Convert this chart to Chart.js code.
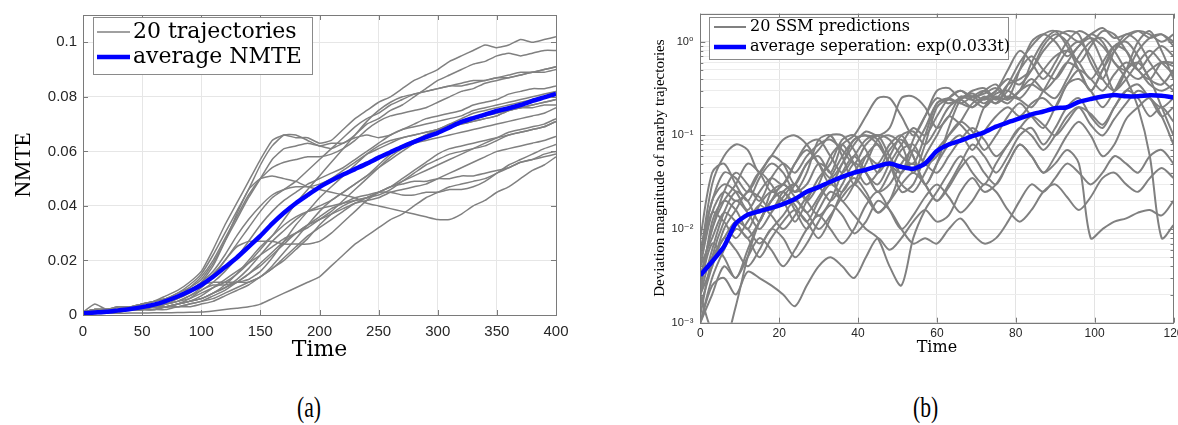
<!DOCTYPE html>
<html>
<head>
<meta charset="utf-8">
<script src="https://cdn.jsdelivr.net/npm/chart.js@4.4.1/dist/chart.umd.min.js"></script>
<style>
  html, body { margin: 0; padding: 0; background: #fff; width: 1178px; height: 425px; overflow: hidden; }
  .panel { position: absolute; top: 0; }
  #leftWrap { left: 0; width: 580px; height: 370px; }
  #rightWrap { left: 640px; width: 560px; height: 370px; }
  .caption { position: absolute; top: 392px; font-family: "Liberation Serif", serif; font-size: 24px; color: #000;
             transform: scale(0.9, 1.2); transform-origin: left top; }
</style>
</head>
<body>
<div class="panel" id="leftWrap"><canvas id="nmteChart" width="580" height="370"></canvas></div>
<div class="panel" id="rightWrap"><canvas id="sepChart" width="560" height="370"></canvas></div>
<div class="caption" style="left:297px">(a)</div>
<div class="caption" style="left:913px">(b)</div>
<script>
// ---- (a) NMTE of 20 trajectories ----
const nmteTime = [0,10,20,30,40,50,60,70,80,90, 100,110,120,130,140,150,160,170,180,190,
  200,210,220,230,240,250,260,270,280,290, 300,310,320,330,340,350,360,370,380,390, 400];

const nmteAverage = [0.0006,0.0009,0.0012,0.0017,0.0022,0.0029,0.0038,0.0051,0.0068,0.0087,
  0.0110,0.0140,0.0175,0.0210,0.0250,0.0290,0.0335,0.0375,0.0410,0.0440,
  0.0469,0.0493,0.0515,0.0535,0.0555,0.0577,0.0597,0.0617,0.0635,0.0652,
  0.0668,0.0688,0.0708,0.0722,0.0735,0.0748,0.0758,0.0770,0.0785,0.0798, 0.0811];

const nmteRun01 = [0.001,0.002,0.002,0.003,0.003,0.004,0.005,0.007,0.009,0.012, 0.016,0.024,0.033,0.041,0.049,0.057,0.064,0.066,0.065,0.065,
  0.063,0.064,0.068,0.072,0.075,0.078,0.080,0.083,0.086,0.088, 0.090,0.093,0.095,0.097,0.099,0.098,0.099,0.101,0.100,0.101, 0.102];
const nmteRun02 = [0.001,0.004,0.002,0.003,0.003,0.004,0.005,0.006,0.008,0.011, 0.015,0.022,0.030,0.038,0.046,0.055,0.062,0.066,0.066,0.064,
  0.062,0.063,0.063,0.066,0.070,0.072,0.075,0.077,0.080,0.083, 0.086,0.088,0.090,0.092,0.093,0.095,0.096,0.095,0.096,0.097, 0.097];
const nmteRun03 = [0.001,0.002,0.002,0.003,0.003,0.004,0.005,0.006,0.008,0.010, 0.013,0.019,0.027,0.035,0.043,0.050,0.057,0.061,0.062,0.063,
  0.062,0.061,0.063,0.065,0.066,0.065,0.066,0.068,0.070,0.072, 0.073,0.074,0.075,0.077,0.078,0.079,0.081,0.082,0.083,0.083, 0.084];
const nmteRun04 = [0.001,0.002,0.002,0.002,0.003,0.003,0.004,0.005,0.007,0.009, 0.012,0.018,0.027,0.037,0.046,0.050,0.051,0.050,0.049,0.047,
  0.046,0.045,0.044,0.043,0.041,0.040,0.039,0.038,0.037,0.036, 0.035,0.035,0.037,0.040,0.042,0.045,0.047,0.050,0.053,0.055, 0.058];
const nmteRun05 = [0.001,0.002,0.002,0.002,0.003,0.003,0.004,0.005,0.006,0.008, 0.011,0.015,0.020,0.026,0.032,0.038,0.043,0.046,0.049,0.053,
  0.057,0.061,0.065,0.069,0.072,0.074,0.077,0.079,0.081,0.082, 0.083,0.084,0.085,0.086,0.086,0.087,0.088,0.089,0.089,0.090, 0.091];
const nmteRun06 = [0.001,0.001,0.002,0.002,0.002,0.003,0.003,0.004,0.005,0.006, 0.008,0.010,0.012,0.015,0.019,0.024,0.029,0.035,0.041,0.046,
  0.051,0.056,0.061,0.066,0.071,0.075,0.078,0.080,0.081,0.082, 0.083,0.084,0.084,0.085,0.086,0.087,0.087,0.088,0.089,0.089, 0.090];
const nmteRun07 = [0.001,0.001,0.002,0.002,0.002,0.003,0.003,0.004,0.005,0.007, 0.009,0.012,0.016,0.021,0.027,0.033,0.038,0.042,0.045,0.048,
  0.050,0.052,0.054,0.057,0.060,0.063,0.066,0.068,0.069,0.070, 0.071,0.072,0.073,0.075,0.076,0.077,0.078,0.079,0.080,0.081, 0.082];
const nmteRun08 = [0.001,0.001,0.001,0.002,0.002,0.002,0.003,0.003,0.004,0.005, 0.006,0.008,0.010,0.013,0.017,0.022,0.027,0.031,0.035,0.038,
  0.040,0.042,0.045,0.048,0.051,0.055,0.059,0.062,0.064,0.066, 0.068,0.069,0.070,0.071,0.072,0.073,0.075,0.076,0.077,0.078, 0.079];
const nmteRun09 = [0.001,0.001,0.002,0.002,0.002,0.003,0.003,0.004,0.006,0.009, 0.011,0.012,0.012,0.012,0.013,0.016,0.021,0.027,0.033,0.038,
  0.043,0.047,0.051,0.055,0.059,0.062,0.064,0.065,0.066,0.067, 0.068,0.070,0.071,0.072,0.073,0.074,0.075,0.076,0.076,0.077, 0.077];
const nmteRun10 = [0.001,0.001,0.001,0.002,0.002,0.002,0.002,0.003,0.004,0.005, 0.007,0.010,0.013,0.016,0.019,0.022,0.025,0.028,0.030,0.032,
  0.035,0.038,0.042,0.046,0.050,0.054,0.058,0.061,0.063,0.064, 0.065,0.066,0.067,0.068,0.069,0.070,0.071,0.072,0.073,0.074, 0.076];
const nmteRun11 = [0.001,0.001,0.002,0.002,0.002,0.003,0.003,0.004,0.005,0.007, 0.010,0.014,0.020,0.025,0.027,0.027,0.027,0.026,0.026,0.026,
  0.027,0.030,0.034,0.038,0.042,0.045,0.047,0.049,0.051,0.053, 0.055,0.057,0.059,0.061,0.063,0.065,0.067,0.068,0.069,0.070, 0.072];
const nmteRun12 = [0.001,0.001,0.001,0.002,0.002,0.002,0.003,0.003,0.004,0.005, 0.006,0.008,0.011,0.015,0.020,0.025,0.029,0.033,0.036,0.038,
  0.039,0.040,0.041,0.042,0.043,0.045,0.047,0.050,0.053,0.056, 0.059,0.061,0.062,0.063,0.064,0.065,0.066,0.067,0.068,0.069, 0.071];
const nmteRun13 = [0.001,0.001,0.001,0.001,0.002,0.002,0.002,0.003,0.003,0.004, 0.005,0.007,0.009,0.012,0.015,0.019,0.023,0.027,0.030,0.033,
  0.035,0.037,0.039,0.041,0.042,0.043,0.045,0.046,0.047,0.048, 0.050,0.052,0.054,0.056,0.058,0.060,0.061,0.062,0.063,0.064, 0.0655];
const nmteRun14 = [0.001,0.001,0.001,0.002,0.002,0.002,0.003,0.003,0.004,0.005, 0.006,0.008,0.010,0.012,0.015,0.018,0.022,0.026,0.030,0.033,
  0.036,0.039,0.041,0.043,0.044,0.045,0.045,0.044,0.044,0.045, 0.045,0.046,0.046,0.047,0.049,0.052,0.055,0.057,0.059,0.061, 0.0625];
const nmteRun15 = [0.001,0.001,0.001,0.001,0.002,0.002,0.002,0.002,0.003,0.003, 0.004,0.005,0.007,0.009,0.011,0.014,0.017,0.021,0.025,0.029,
  0.032,0.035,0.038,0.041,0.043,0.045,0.047,0.048,0.049,0.049, 0.050,0.050,0.051,0.051,0.052,0.053,0.054,0.056,0.057,0.059, 0.060];
const nmteRun16 = [0.0005,0.0005,0.0006,0.0006,0.0007,0.0007,0.0008,0.0008,0.0009,0.0010, 0.0011,0.0015,0.0020,0.0025,0.0030,0.0040,0.0060,0.0080,0.0100,0.0120,
  0.0140,0.0180,0.0220,0.0260,0.0290,0.0320,0.0350,0.0370,0.0400,0.0430, 0.0450,0.0470,0.0480,0.0490,0.0500,0.0520,0.0540,0.0560,0.0570,0.0580, 0.0590];
const nmteRun17 = [0.001,0.001,0.001,0.002,0.002,0.002,0.002,0.003,0.003,0.004, 0.005,0.006,0.008,0.010,0.012,0.014,0.017,0.020,0.024,0.028,
  0.033,0.037,0.040,0.042,0.043,0.044,0.046,0.049,0.052,0.055, 0.057,0.059,0.060,0.061,0.062,0.064,0.066,0.067,0.068,0.069, 0.071];
const nmteRun18 = [0.001,0.002,0.002,0.003,0.003,0.004,0.005,0.006,0.007,0.010, 0.014,0.020,0.028,0.036,0.044,0.050,0.054,0.056,0.057,0.058,
  0.058,0.059,0.061,0.064,0.068,0.071,0.073,0.074,0.075,0.076, 0.078,0.080,0.082,0.083,0.085,0.086,0.087,0.088,0.089,0.090, 0.091];
const nmteRun19 = [0.001,0.001,0.001,0.002,0.002,0.002,0.003,0.003,0.004,0.006, 0.009,0.011,0.011,0.012,0.012,0.014,0.018,0.023,0.028,0.033,
  0.038,0.042,0.045,0.048,0.051,0.054,0.057,0.060,0.063,0.066, 0.068,0.070,0.072,0.074,0.075,0.076,0.077,0.078,0.079,0.080, 0.082];
const nmteRun20 = [0.001,0.002,0.002,0.002,0.003,0.003,0.004,0.005,0.007,0.009, 0.012,0.016,0.022,0.029,0.035,0.040,0.044,0.046,0.047,0.047,
  0.048,0.050,0.053,0.056,0.059,0.061,0.063,0.065,0.066,0.067, 0.068,0.069,0.070,0.071,0.072,0.073,0.075,0.076,0.077,0.078, 0.079];

const nmteRuns = [nmteRun01, nmteRun02, nmteRun03, nmteRun04, nmteRun05, nmteRun06, nmteRun07, nmteRun08, nmteRun09, nmteRun10,
  nmteRun11, nmteRun12, nmteRun13, nmteRun14, nmteRun15, nmteRun16, nmteRun17, nmteRun18, nmteRun19, nmteRun20];

const nmteXTicks = [0, 50, 100, 150, 200, 250, 300, 350, 400];
const nmteYTicks = [0, 0.02, 0.04, 0.06, 0.08, 0.1];

// ---- (b) separation of nearby trajectories ----
const sepTime = [0,3,6,9,12,15,18,21,24,27, 30,33,36,39,42,45,48,51,54,57,
  60,63,66,69,72,75,78,81,84,87, 90,93,96,99,102,105,108,111,114,117, 120];

const sepAverage = [3.2e-3,4.5e-3,6.5e-3,1.15e-2,1.42e-2,1.55e-2,1.68e-2,1.85e-2,2.1e-2,2.5e-2,
  2.8e-2,3.2e-2,3.6e-2,4e-2,4.3e-2,4.7e-2,5e-2,4.6e-2,4.4e-2,5e-2,
  6.8e-2,8e-2,8.8e-2,9.8e-2,1.08e-1,1.24e-1,1.38e-1,1.52e-1,1.68e-1,1.8e-1,
  1.95e-1,2e-1,2.28e-1,2.45e-1,2.6e-1,2.7e-1,2.62e-1,2.62e-1,2.68e-1,2.65e-1, 2.55e-1];

const sepRun01 = [5e-3,3e-2,6e-2,8e-2,7e-2,4e-2,6e-2,5e-2,3e-2,5e-2, 6e-2,4e-2,8e-2,1e-1,1.6e-1,2.5e-1,2.5e-1,1.6e-1,1e-1,1.6e-1,
  3e-1,3.2e-1,2.5e-1,3e-1,3.2e-1,2.5e-1,3.5e-1,4e-1,5e-1,8e-1, 1.1,1.3,1.2,6e-1,4e-1,8e-1,1.2,1.0,6e-1,4e-1, 3e-1];
const sepRun02 = [3e-3,1e-2,2.5e-2,4e-2,3e-2,2e-2,3.5e-2,5e-2,4e-2,6e-2, 8e-2,9e-2,7e-2,5e-2,8e-2,1e-1,9e-2,6e-2,5e-2,1e-1,
  2.2e-1,2.5e-1,3e-1,2.6e-1,2.8e-1,3.2e-1,2.5e-1,5e-1,1.0,1.2, 1.0,7e-1,9e-1,1.2,1.0,6e-1,5e-1,8e-1,1.1,1.2, 9e-1];
const sepRun03 = [2e-3,6e-3,1.5e-2,2.5e-2,2e-2,1.2e-2,2.5e-2,3e-2,2.5e-2,4e-2, 9e-2,1e-1,6e-2,3e-2,5e-2,9e-2,1e-1,8e-2,4e-2,8e-2,
  2e-1,2.4e-1,2.2e-1,2e-1,2.5e-1,3e-1,5e-1,8e-1,6e-1,4e-1, 6e-1,1.0,1.3,1.1,6e-1,3e-1,5e-1,1.0,1.3,8e-1, 4e-1];
const sepRun04 = [8e-3,4e-2,5e-2,3e-2,2e-2,3.5e-2,5e-2,4e-2,2.5e-2,3e-2, 5e-2,4e-2,2e-2,3e-2,6e-2,8e-2,5e-2,2.5e-2,3e-2,6e-2,
  1e-1,1.6e-1,1.3e-1,1e-1,2e-1,2.5e-1,2.2e-1,3e-1,3.5e-1,3e-1, 4e-1,6e-1,5e-1,3e-1,5e-1,9e-1,1.0,7e-1,4e-1,3.5e-1, 5e-1];
const sepRun05 = [1.5e-3,4e-3,1e-2,1.6e-2,2.5e-2,2.2e-2,1.6e-2,2.5e-2,3e-2,2e-2, 3e-2,6e-2,8e-2,5e-2,3e-2,4e-2,7e-2,9e-2,6e-2,3e-2,
  5e-2,8e-2,1e-1,7e-2,1.1e-1,1.6e-1,2e-1,1.6e-1,2.2e-1,2.5e-1, 2e-1,3.5e-1,4e-1,3e-1,2e-1,3e-1,5e-1,6e-1,4e-1,2e-1, 1e-1];
const sepRun06 = [2e-3,1.2e-2,2e-2,1.6e-2,1e-2,1.8e-2,2.5e-2,2e-2,1.2e-2,2e-2, 3.5e-2,5e-2,9e-2,1e-1,7e-2,4e-2,6e-2,1e-1,1.1e-1,8e-2,
  1.2e-1,2e-1,2.4e-1,2e-1,2.6e-1,2.2e-1,3.5e-1,6e-1,9e-1,1.2, 1.3,9e-1,5e-1,3e-1,5e-1,8e-1,1.1,1.3,1.2,1.0, 1.2];
const sepRun07 = [1e-3,3e-3,6e-3,1e-2,8e-3,5e-3,8e-3,1.2e-2,1.6e-2,1.2e-2, 8e-3,1.3e-2,2.5e-2,3.5e-2,2.5e-2,1.5e-2,2e-2,4e-2,5e-2,3e-2,
  2e-2,3e-2,5e-2,8e-2,6e-2,4e-2,6e-2,1e-1,1.2e-1,8e-2, 1.2e-1,2e-1,2.5e-1,1.6e-1,1.2e-1,2e-1,3e-1,2.5e-1,1.6e-1,2e-1, 1.4e-1];
const sepRun08 = [1e-3,2.5e-3,3e-3,2e-3,3.5e-3,3e-3,2.5e-3,2e-3,1.5e-3,2.5e-3, 4e-3,5e-3,4e-3,3e-3,5e-3,8e-3,6e-3,8e-3,1.2e-2,1.6e-2,
  1.2e-2,1.4e-2,2.5e-2,3.5e-2,2.5e-2,3e-2,5e-2,8e-2,6e-2,4e-2, 6e-2,1e-1,1.4e-1,1e-1,6e-2,8e-2,1.5e-1,2e-1,2.5e-1,1.6e-1, 8e-2];
const sepRun09 = [4e-3,8e-3,1.5e-2,1.2e-2,8e-3,1.2e-2,2e-2,2.5e-2,1.6e-2,1e-2, 1.6e-2,2.5e-2,2e-2,1.4e-2,1e-2,8e-3,4e-3,2.5e-3,8e-3,1.6e-2,
  2.5e-2,4e-2,6e-2,4e-2,3e-2,5e-2,8e-2,1.2e-1,1e-1,7e-2, 1e-1,1.6e-1,2e-1,1.3e-1,1e-1,1.5e-1,2.2e-1,3e-1,2.5e-1,1.6e-1, 2e-1];
const sepRun10 = [3e-3,5e-3,8e-3,1.2e-2,1e-2,7e-3,1e-2,1.4e-2,2e-2,1.5e-2, 1e-2,1.4e-2,2.2e-2,3e-2,2.2e-2,1.5e-2,2e-2,3e-2,4e-2,3e-2,
  2e-2,2.8e-2,4.5e-2,6e-2,4e-2,3e-2,5e-2,8e-2,6e-2,4e-2, 5e-2,7e-2,5e-2,8e-3,1e-2,1.2e-2,1.3e-2,1.5e-2,1.6e-2,1.4e-2, 2e-2];
const sepRun11 = [5e-3,2e-2,3e-2,2.5e-2,1.6e-2,2.5e-2,3.5e-2,3e-2,5e-2,8e-2, 9e-2,6e-2,4e-2,6e-2,9e-2,1e-1,6e-2,4e-2,7e-2,1.2e-1,
  2.2e-1,2.5e-1,2.2e-1,2.6e-1,3e-1,2.4e-1,3e-1,5e-1,7e-1,5e-1, 4e-1,6e-1,9e-1,1.1,9e-1,6e-1,4e-1,2e-1,6e-2,8e-3, 1.1e-2];
const sepRun12 = [2e-3,8e-4,6e-4,1.5e-3,5e-3,1.2e-2,2e-2,2.5e-2,1.8e-2,1.2e-2, 2e-2,3e-2,2.5e-2,4e-2,6e-2,5e-2,8e-2,1e-1,6e-2,3e-2,
  5e-2,1.2e-1,2.4e-1,2.6e-1,2.2e-1,2.8e-1,3e-1,2.5e-1,3.5e-1,5e-1, 7e-1,8e-1,6e-1,4e-1,6e-1,9e-1,8e-1,5e-1,4e-1,6e-1, 6e-1];
const sepRun13 = [6e-3,2e-2,4e-2,3.5e-2,2.5e-2,4e-2,6e-2,9e-2,1e-1,8e-2, 5e-2,3e-2,5e-2,9e-2,1e-1,9e-2,5e-2,4e-2,9e-2,1.6e-1,
  2.5e-1,2.2e-1,2.5e-1,2.8e-1,2.4e-1,3e-1,4e-1,3.5e-1,5e-1,9e-1, 1.2,1.0,6e-1,9e-1,1.3,1.2,8e-1,5e-1,7e-1,9e-1, 7e-1];
const sepRun14 = [1.2e-3,5e-3,1.2e-2,2e-2,1.5e-2,1e-2,1.5e-2,2.2e-2,3e-2,2e-2, 1.4e-2,2e-2,4e-2,6e-2,4e-2,2.5e-2,4e-2,7e-2,8e-2,5e-2,
  6e-2,1e-1,1.4e-1,1.1e-1,7e-2,1e-1,1.6e-1,2.2e-1,1.6e-1,1.2e-1, 2e-1,3.5e-1,5e-1,4e-1,3e-1,4.5e-1,6e-1,5e-1,3.5e-1,3e-1, 3.5e-1];
const sepRun15 = [4e-3,1.5e-2,2.5e-2,2e-2,2.5e-2,4e-2,3e-2,2e-2,3e-2,5e-2, 7e-2,1e-1,1e-1,7e-2,4e-2,3e-2,5e-2,8e-2,1.2e-1,1e-1,
  1.6e-1,2.5e-1,3e-1,2.4e-1,2e-1,2.6e-1,2.4e-1,3e-1,4e-1,3e-1, 2.5e-1,4e-1,7e-1,1.0,1.1,8e-1,5e-1,4e-1,5e-1,6e-1, 5.5e-1];
const sepRun16 = [3e-3,1e-2,2e-2,3e-2,5e-2,4e-2,2.5e-2,3e-2,5e-2,7e-2, 5e-2,3.5e-2,5e-2,8e-2,1.1e-1,1e-1,1.2e-1,2.5e-1,2.6e-1,2e-1,
  1.2e-1,1.6e-1,2.6e-1,2.4e-1,3e-1,3.5e-1,2.5e-1,3e-1,6e-1,1.0, 1.3,1.2,1.0,1.2,1.4,1.1,1.2,1.3,1.1,1.2, 1.0];
const sepRun17 = [2e-3,4e-3,8e-3,6e-3,4e-3,6e-3,1e-2,8e-3,5e-3,7e-3, 1.2e-2,1.8e-2,1.4e-2,9e-3,1.2e-2,2e-2,1.6e-2,1e-2,7e-3,8e-3,
  7e-3,1e-2,1.3e-2,9e-3,7e-3,8e-3,1.2e-2,2e-2,3e-2,2.5e-2, 3.5e-2,5e-2,4e-2,3e-2,4e-2,6e-2,5e-2,4e-2,6e-2,7e-2, 5e-2];
const sepRun18 = [1e-3,2e-3,4e-3,3e-3,5e-3,8e-3,6e-3,4e-3,6e-3,1e-2, 1.4e-2,1e-2,7e-3,1e-2,1.8e-2,2.5e-2,1.6e-2,1e-2,1.4e-2,2.2e-2,
  3e-2,2.2e-2,1.5e-2,2e-2,3e-2,2.5e-2,1.6e-2,1.2e-2,1.6e-2,2.5e-2, 3e-2,2.2e-2,1.6e-2,2.2e-2,3.5e-2,4e-2,3e-2,2.5e-2,3.5e-2,4.5e-2, 3.5e-2];
const sepRun19 = [5e-3,1.5e-2,1.2e-2,8e-3,1.2e-2,1.8e-2,1.4e-2,1e-2,1.4e-2,2.2e-2, 2.8e-2,2e-2,3e-2,5e-2,4e-2,2.5e-2,3e-2,5e-2,7e-2,5e-2,
  4e-2,6e-2,9e-2,1.2e-1,9e-2,6e-2,8e-2,1.2e-1,1.6e-1,1.3e-1, 1e-1,1.4e-1,2e-1,1.7e-1,1.3e-1,2e-1,3e-1,3.5e-1,2.5e-1,2e-1, 2.5e-1];
const sepRun20 = [2.5e-3,7e-3,5e-3,3e-3,6e-3,1.2e-2,2e-2,3e-2,2.2e-2,1.5e-2, 2.2e-2,3.5e-2,6e-2,9e-2,1e-1,8e-2,5e-2,3e-2,2.5e-2,4e-2,
  7e-2,1e-1,1.4e-1,2.2e-1,2.5e-1,2.2e-1,2.6e-1,2.4e-1,2e-1,3e-1, 5e-1,8e-1,1.0,7e-1,4e-1,3e-1,4e-1,6e-1,8e-1,6e-1, 4.5e-1];

const sepRuns = [sepRun01, sepRun02, sepRun03, sepRun04, sepRun05, sepRun06, sepRun07, sepRun08, sepRun09, sepRun10,
  sepRun11, sepRun12, sepRun13, sepRun14, sepRun15, sepRun16, sepRun17, sepRun18, sepRun19, sepRun20];

const sepXTicks = [0, 20, 40, 60, 80, 100, 120];
const sepDecades = [1e-3, 1e-2, 1e-1, 1];
const sepDecadeLabels = ['10\u207B\u00B3', '10\u207B\u00B2', '10\u207B\u00B9', '10\u2070'];

const GRAY = '#808080';
const BLUE = '#0000ff';
const tickFont = 'Liberation Sans';
const texFont = 'DejaVu Serif';

// axes box with inward ticks plus a boxed legend, drawn over the data
const axesBox = {
  id: 'axesBox',
  afterDraw(chart, args, opts) {
    const { ctx, chartArea: a, scales } = chart;
    ctx.save();
    ctx.strokeStyle = '#7a7a7a';
    ctx.lineWidth = 1;
    ctx.beginPath();
    scales.x.ticks.forEach(t => {
      const px = Math.round(scales.x.getPixelForValue(t.value)) + 0.5;
      ctx.moveTo(px, a.bottom); ctx.lineTo(px, a.bottom - 5);
      ctx.moveTo(px, a.top); ctx.lineTo(px, a.top + 5);
    });
    scales.y.ticks.forEach(t => {
      const len = (opts.minorTicks && !t.major) ? 3 : 5;
      const py = Math.round(scales.y.getPixelForValue(t.value)) + 0.5;
      ctx.moveTo(a.left, py); ctx.lineTo(a.left + len, py);
      ctx.moveTo(a.right, py); ctx.lineTo(a.right - len, py);
    });
    ctx.stroke();
    ctx.strokeRect(Math.round(a.left) + 0.5, Math.round(a.top) + 0.5,
                   Math.round(a.right - a.left), Math.round(a.bottom - a.top));

    const lg = opts.legend;
    ctx.fillStyle = '#fff';
    ctx.fillRect(lg.x, lg.y, lg.w, lg.h);
    ctx.strokeStyle = '#8a8a8a';
    ctx.lineWidth = 1;
    ctx.strokeRect(lg.x + 0.5, lg.y + 0.5, lg.w, lg.h);
    ctx.font = lg.font;
    ctx.textBaseline = 'middle';
    ctx.textAlign = 'left';
    lg.rows.forEach(r => {
      ctx.strokeStyle = r.color;
      ctx.lineWidth = r.width;
      ctx.beginPath();
      ctx.moveTo(lg.x + lg.lineFrom, r.y);
      ctx.lineTo(lg.x + lg.lineTo, r.y);
      ctx.stroke();
      ctx.fillStyle = '#000';
      ctx.fillText(r.text, lg.x + lg.textAt, r.y);
    });
    ctx.restore();
  }
};

function series(xs, ys) {
  return xs.map((x, i) => ({ x: x, y: ys[i] }));
}

const baseOptions = {
  responsive: false,
  animation: false,
  devicePixelRatio: 1,
  events: [],
  elements: { point: { radius: 0 } },
};

// (a)
new Chart(document.getElementById('nmteChart'), {
  type: 'line',
  data: {
    datasets: [
      { label: 'average NMTE', data: series(nmteTime, nmteAverage), borderColor: BLUE, borderWidth: 4.5, tension: 0.2 }
    ].concat(nmteRuns.map(run => ({
      label: '20 trajectories', data: series(nmteTime, run), borderColor: GRAY, borderWidth: 1.5, tension: 0.15
    })))
  },
  options: Object.assign({}, baseOptions, {
    layout: { padding: { left: 0, right: 24, top: 9, bottom: 0 } },
    scales: {
      x: {
        type: 'linear', min: 0, max: 400,
        afterFit: s => { s.height = 55; },
        afterBuildTicks: s => { s.ticks = nmteXTicks.map(v => ({ value: v })); },
        ticks: { font: { family: tickFont, size: 15 }, color: '#262626', padding: 8, maxRotation: 0, autoSkip: false },
        grid: { color: '#e6e6e6', drawTicks: false },
        border: { display: false },
        title: { display: true, text: 'Time', font: { family: texFont, size: 22 }, color: '#000', padding: { top: 0, bottom: 7 } }
      },
      y: {
        min: 0, max: 0.11,
        afterFit: s => { s.width = 83; },
        afterBuildTicks: s => { s.ticks = nmteYTicks.map(v => ({ value: v })); },
        ticks: { font: { family: tickFont, size: 15 }, color: '#262626', padding: 6, autoSkip: false,
                 callback: v => String(+v.toFixed(2)) },
        grid: { color: '#e6e6e6', drawTicks: false },
        border: { display: false },
        title: { display: true, text: 'NMTE', font: { family: 'Liberation Serif', size: 23 }, color: '#000', padding: { top: 10, bottom: 0 } }
      }
    },
    plugins: {
      legend: { display: false },
      tooltip: { enabled: false },
      axesBox: {
        legend: {
          x: 93, y: 17, w: 219, h: 57, lineFrom: 4, lineTo: 37, textAt: 40,
          font: '22px "' + texFont + '"',
          rows: [
            { text: '20 trajectories', y: 32, color: GRAY, width: 1.5 },
            { text: 'average NMTE', y: 57, color: BLUE, width: 4.5 }
          ]
        }
      }
    }
  }),
  plugins: [axesBox]
});

// (b)
const sepTickValues = [];
sepDecades.forEach(d => {
  for (let m = 1; m <= 9; m++) {
    if (m * d <= 2.0001) sepTickValues.push({ value: m * d, major: m === 1 });
  }
});

new Chart(document.getElementById('sepChart'), {
  type: 'line',
  data: {
    datasets: [
      { label: 'average seperation: exp(0.033t)', data: series(sepTime, sepAverage), borderColor: BLUE, borderWidth: 4.5, tension: 0.2 }
    ].concat(sepRuns.map(run => ({
      label: '20 SSM predictions', data: series(sepTime, run), borderColor: GRAY, borderWidth: 2, tension: 0.3
    })))
  },
  options: Object.assign({}, baseOptions, {
    layout: { padding: { left: 0, right: 26.5, top: 9, bottom: 0 } },
    scales: {
      x: {
        type: 'linear', min: 0, max: 120,
        afterFit: s => { s.height = 47.3; },
        afterBuildTicks: s => { s.ticks = sepXTicks.map(v => ({ value: v })); },
        ticks: { font: { family: tickFont, size: 12 }, color: '#262626', padding: 4, maxRotation: 0, autoSkip: false },
        grid: { color: '#e3e3e3', drawTicks: false },
        border: { display: false },
        title: { display: true, text: 'Time', font: { family: texFont, size: 16 }, color: '#000', padding: { top: 0, bottom: 13 } }
      },
      y: {
        type: 'logarithmic', min: 0.001, max: 2,
        afterFit: s => { s.width = 60.3; },
        afterBuildTicks: s => { s.ticks = sepTickValues.map(t => ({ value: t.value, major: t.major })); },
        ticks: {
          font: { family: tickFont + ', DejaVu Sans', size: 11 }, color: '#262626', padding: 7, autoSkip: false,
          callback: v => {
            const k = sepDecades.findIndex(d => Math.abs(v / d - 1) < 1e-6);
            return k >= 0 ? sepDecadeLabels[k] : '';
          }
        },
        grid: {
          drawTicks: false,
          color: c => (c.tick && c.tick.major) ? '#dedede' : '#ececec'
        },
        border: { display: false },
        title: { display: true, text: 'Deviation magnitude of nearby trajectories', font: { family: 'Liberation Serif', size: 15 },
                 color: '#000', padding: { top: 11, bottom: 0 } }
      }
    },
    plugins: {
      legend: { display: false },
      tooltip: { enabled: false },
      axesBox: {
        minorTicks: true,
        legend: {
          x: 69, y: 17, w: 299, h: 42, lineFrom: 5, lineTo: 37, textAt: 41,
          font: '16px "' + texFont + '"',
          rows: [
            { text: '20 SSM predictions', y: 27, color: GRAY, width: 2 },
            { text: 'average seperation: exp(0.033t)', y: 47, color: BLUE, width: 4.5 }
          ]
        }
      }
    }
  }),
  plugins: [axesBox]
});
</script>
</body>
</html>
